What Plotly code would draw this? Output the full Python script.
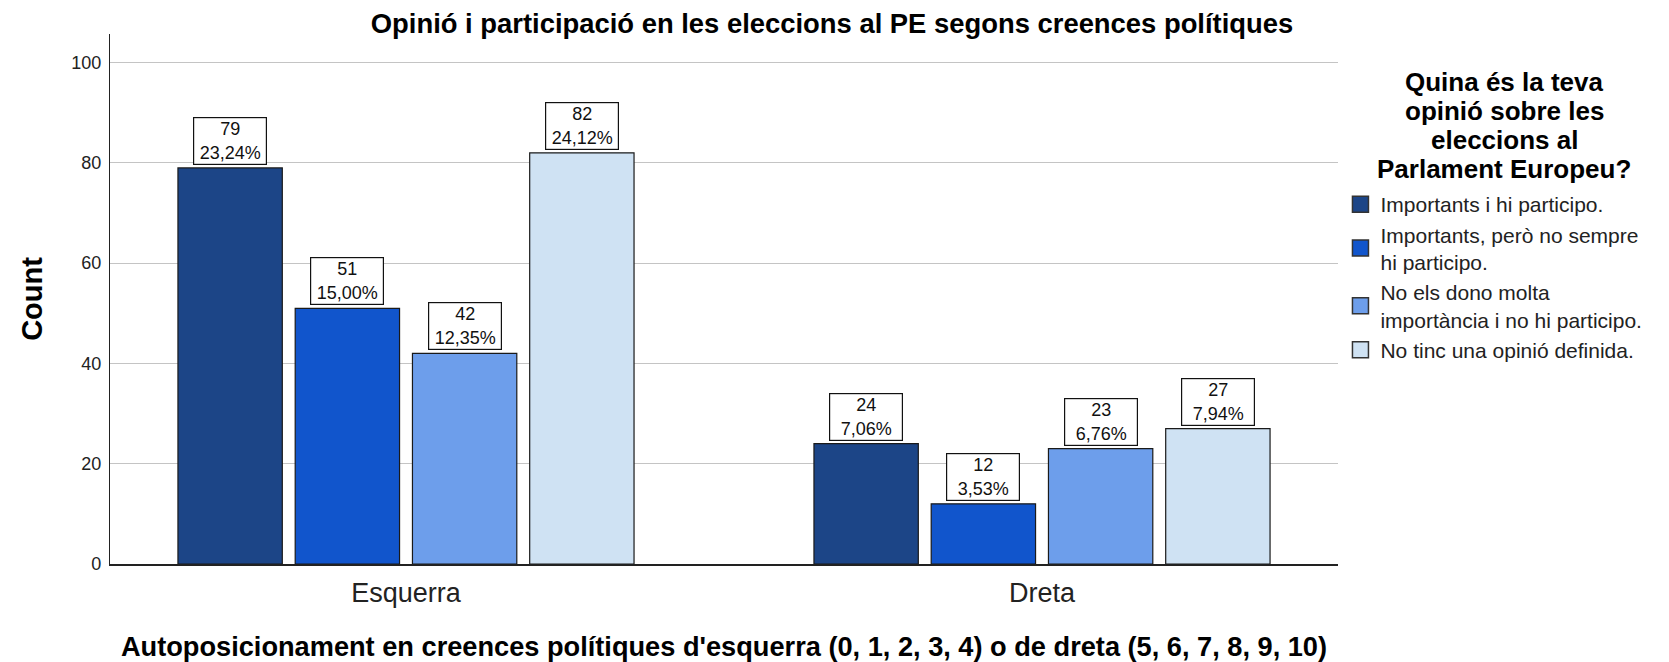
import plotly.graph_objects as go

# ---------------- data ----------------
categories = ["Esquerra", "Dreta"]

series_names = [
    "Importants i hi participo.",
    "Importants, però no sempre<br>hi participo.",
    "No els dono molta<br>importància i no hi participo.",
    "No tinc una opinió definida.",
]
series_colors = ["#1C4587", "#1155CC", "#6D9EEB", "#CFE2F3"]

imp_participo = [79, 24]
imp_no_sempre = [51, 12]
no_importancia = [42, 23]
no_opinio = [82, 27]

pct_imp_participo = ["23,24%", "7,06%"]
pct_imp_no_sempre = ["15,00%", "3,53%"]
pct_no_importancia = ["12,35%", "6,76%"]
pct_no_opinio = ["24,12%", "7,94%"]

y_ticks = [0, 20, 40, 60, 80, 100]

title_text = "Opinió i participació en les eleccions al PE segons creences polítiques"
x_title = "Autoposicionament en creences polítiques d'esquerra (0, 1, 2, 3, 4) o de dreta (5, 6, 7, 8, 9, 10)"
y_title = "Count"
legend_title_lines = ["Quina és la teva", "opinió sobre les", "eleccions al", "Parlament Europeu?"]

series_values = [imp_participo, imp_no_sempre, no_importancia, no_opinio]
series_pcts = [pct_imp_participo, pct_imp_no_sempre, pct_no_importancia, pct_no_opinio]

# ---------------- layout params ----------------
# the page body has an 8px margin, so the figure is drawn 8px smaller
FONT = "Liberation Sans, Arial, sans-serif"
W, H = 1661, 654
ML, MR, MT, MB = 102, 331, 26, 98
BARGAP = 0.2626
BARGROUPGAP = 0.11
Y_MAX = 105.7

fig = go.Figure()

n = len(series_values)
slot = (1 - BARGAP) / n

for i, (name, vals, col) in enumerate(zip(series_names, series_values, series_colors)):
    fig.add_trace(go.Bar(
        x=categories, y=vals, name=name,
        marker=dict(color=col, line=dict(color="#1a1a1a", width=1.2)),
        showlegend=False, hoverinfo="x+y+name",
    ))
    # legend proxy with bigger swatch
    fig.add_trace(go.Scatter(
        x=[None], y=[None], mode="markers", name=name,
        marker=dict(symbol="square", size=16, color=col, line=dict(color="#333333", width=1.5)),
        showlegend=True, hoverinfo="skip",
    ))

# data labels
for i, (vals, pcts) in enumerate(zip(series_values, series_pcts)):
    off = -(1 - BARGAP) / 2 + slot * (i + 0.5)
    for j, (v, p) in enumerate(zip(vals, pcts)):
        fig.add_annotation(
            x=j + off, y=v, xref="x", yref="y",
            text=f"{v}<br>{p}", showarrow=False,
            yanchor="bottom", yshift=3,
            font=dict(family=FONT, size=18, color="#111111"),
            bgcolor="white", bordercolor="#111111", borderwidth=1.2,
            width=70, height=44, borderpad=1,
        )

# legend title lines
legend_title_y = [0.9102, 0.8555, 0.8008, 0.7460]
for line, yy in zip(legend_title_lines, legend_title_y):
    fig.add_annotation(
        x=1.1352, y=yy, xref="paper", yref="paper",
        text=f"<b>{line}</b>", showarrow=False,
        xanchor="center", yanchor="middle",
        font=dict(family=FONT, size=26, color="#000000"),
    )

fig.update_layout(
    width=W, height=H,
    margin=dict(l=ML, r=MR, t=MT, b=MB, autoexpand=False),
    paper_bgcolor="white", plot_bgcolor="white",
    barmode="group", bargap=BARGAP, bargroupgap=BARGROUPGAP,
    title=dict(text=f"<b>{title_text}</b>", x=0.4961, xanchor="center",
               y=1 - 15.5 / H, yanchor="middle", yref="container",
               font=dict(family=FONT, size=27.4, color="#000000")),
    font=dict(family=FONT, color="#222222"),
    showlegend=True,
    legend=dict(
        x=1.002, xanchor="left", y=0.717, yanchor="top",
        font=dict(family=FONT, size=21, color="#222222"),
        bgcolor="rgba(0,0,0,0)", borderwidth=0,
        tracegroupgap=0, itemsizing="trace",
    ),
    xaxis=dict(
        type="category", range=[-0.4654, 1.4654],
        showline=True, linecolor="#222222", linewidth=1.5,
        ticks="", showgrid=False, zeroline=False,
        tickfont=dict(family=FONT, size=27, color="#222222"),
        ticklabelstandoff=4,
        title=dict(text=f"<b>{x_title}</b>", standoff=31,
                   font=dict(family=FONT, size=27.2, color="#000000")),
        automargin=False,
    ),
    yaxis=dict(
        range=[0, Y_MAX], tickvals=y_ticks,
        showline=True, linecolor="#222222", linewidth=1.2,
        ticks="", showgrid=True, gridcolor="#c4c4c4", gridwidth=1,
        zeroline=False,
        tickfont=dict(family=FONT, size=18, color="#222222"),
        ticklabelstandoff=4,
        title=dict(text=f"<b>{y_title}</b>", standoff=20,
                   font=dict(family=FONT, size=29, color="#000000")),
        automargin=False,
    ),
)

fig.write_html("out.html")
